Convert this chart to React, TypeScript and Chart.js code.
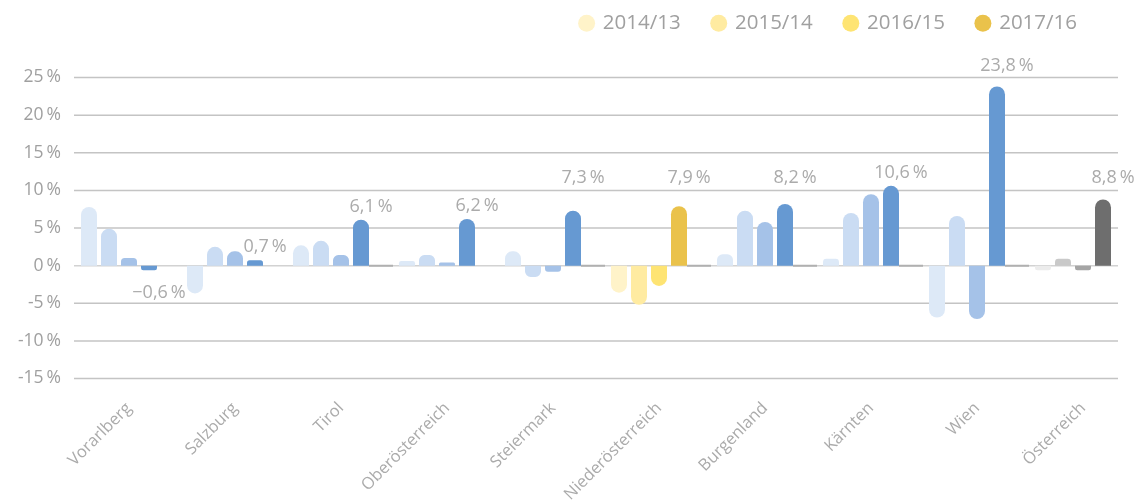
import React, { useEffect, useRef } from 'react';
import { Chart, registerables } from 'chart.js';

Chart.register(...registerables);

const FONT = "'Open Sans', 'DejaVu Sans', sans-serif";

const categories = [
  'Vorarlberg',
  'Salzburg',
  'Tirol',
  'Oberösterreich',
  'Steiermark',
  'Niederösterreich',
  'Burgenland',
  'Kärnten',
  'Wien',
  'Österreich',
];

const seriesLabels = ['2014/13', '2015/14', '2016/15', '2017/16'];

const values1413 = [7.8, -3.7, 2.7, 0.6, 1.9, -3.6, 1.5, 0.9, -6.9, -0.6];
const values1514 = [4.9, 2.5, 3.3, 1.4, -1.5, -5.2, 7.3, 7.0, 6.6, 0.9];
const values1615 = [1.0, 1.9, 1.4, 0.4, -0.8, -2.7, 5.8, 9.5, -7.1, -0.6];
const values1716 = [-0.6, 0.7, 6.1, 6.2, 7.3, 7.9, 8.2, 10.6, 23.8, 8.8];
const gapMarks = [null, null, 0, null, 0, 0, 0, 0, 0, null];

const yTicks = [-15, -10, -5, 0, 5, 10, 15, 20, 25];

const regionPalette = ['blue', 'blue', 'blue', 'blue', 'blue', 'yellow', 'blue', 'blue', 'blue', 'gray'];
const blueShades = ['#dde9f7', '#cadcf3', '#a5c2e8', '#6699d2'];
const yellowShades = ['#fff3c9', '#ffeba1', '#fee473', '#eac24b'];
const grayShades = ['#ececec', '#c9c9c9', '#a5a5a5', '#6e6e6e'];

const shadeSets: Record<string, string[]> = { blue: blueShades, yellow: yellowShades, gray: grayShades };

const seriesValues = [values1413, values1514, values1615, values1716];

const fmtValue = (v: number) =>
  (v < 0 ? '\u2212' : '') + Math.abs(v).toFixed(1).replace('.', ',') + '\u2009%';

const gridPlugin = {
  id: 'customGrid',
  beforeDatasetsDraw(chart: any) {
    const ys = chart.scales.y;
    const { left, right } = chart.chartArea;
    const ctx = chart.ctx;
    ctx.save();
    ys.ticks.forEach((t: any) => {
      const py = ys.getPixelForValue(t.value);
      ctx.beginPath();
      ctx.strokeStyle = t.value === 0 ? '#d2d2d2' : '#c4c4c4';
      ctx.lineWidth = 1.5;
      ctx.moveTo(left - 2, py);
      ctx.lineTo(right - 18, py);
      ctx.stroke();
    });
    ctx.restore();
  },
};

const valueLabelPlugin = {
  id: 'valueLabels',
  afterDatasetsDraw(chart: any) {
    const meta = chart.getDatasetMeta(3);
    const ys = chart.scales.y;
    const gridPx = ys.ticks.map((t: any) => ys.getPixelForValue(t.value));
    const ctx = chart.ctx;
    const capH = 13;
    ctx.save();
    ctx.font = `18px ${FONT}`;
    ctx.fillStyle = '#ababab';
    ctx.textAlign = 'center';
    ctx.textBaseline = 'alphabetic';
    meta.data.forEach((bar: any, i: number) => {
      const v = values1716[i];
      const x = bar.x + 10;
      let base: number;
      if (v >= 0) {
        base = bar.y - 8;
        const top = base - capH;
        for (const g of gridPx) {
          if (g > top - 3 && g < base + 3) base = g - 7;
        }
      } else {
        base = bar.y + 15 + capH;
      }
      ctx.fillText(fmtValue(v), x, base);
    });
    ctx.restore();
  },
};

const legendPlacement = {
  id: 'legendPlacement',
  afterLayout(chart: any) {
    const lg = chart.legend;
    if (!lg) return;
    const h = lg.bottom - lg.top;
    lg.top = -19;
    lg.bottom = lg.top + h;
    lg.right = chart.width - 27;
  },
};

export default function App() {
  const canvasRef = useRef<HTMLCanvasElement | null>(null);

  useEffect(() => {
    if (!canvasRef.current) return;
    Chart.defaults.font.family = FONT;

    const datasets: any[] = seriesValues.map((vals, k) => ({
      label: seriesLabels[k],
      data: vals,
      backgroundColor: categories.map((_, i) => shadeSets[regionPalette[i]][k]),
      borderWidth: 0,
      borderRadius: 8,
      borderSkipped: 'start',
      barPercentage: 0.8,
      categoryPercentage: 100 / 106,
    }));
    datasets.push({
      label: 'gap',
      data: gapMarks,
      backgroundColor: '#b0b0b0',
      borderWidth: 0,
      borderRadius: 0,
      minBarLength: 2,
      barPercentage: 1.2,
      categoryPercentage: 100 / 106,
    });

    const chart = new Chart(canvasRef.current, {
      type: 'bar',
      data: { labels: categories, datasets },
      plugins: [gridPlugin, valueLabelPlugin, legendPlacement],
      options: {
        animation: false,
        responsive: false,
        layout: { padding: { top: 15, left: 0, right: 0, bottom: 0 } },
        plugins: {
          tooltip: { enabled: false },
          legend: {
            position: 'top',
            align: 'end',
            labels: {
              usePointStyle: true,
              boxWidth: 12,
              boxHeight: 12,
              padding: 32,
              color: '#a0a0a0',
              font: { size: 20.5, family: FONT },
              generateLabels: () =>
                seriesLabels.map((t, k) => ({
                  text: t,
                  fillStyle: yellowShades[k],
                  strokeStyle: yellowShades[k],
                  lineWidth: 0,
                  pointStyle: 'circle',
                  hidden: false,
                  datasetIndex: k,
                  fontColor: '#a0a0a0',
                })),
            },
          },
        },
        scales: {
          x: {
            grid: { display: false },
            border: { display: false },
            ticks: {
              autoSkip: false,
              maxRotation: 45,
              minRotation: 45,
              padding: 12,
              color: '#ababab',
              font: { size: 16.5, family: FONT },
            },
            afterFit: (s: any) => {
              s.height = 125.5;
            },
          },
          y: {
            min: -15,
            max: 25,
            grid: { display: false, drawTicks: false },
            border: { display: false },
            afterBuildTicks: (s: any) => {
              s.ticks = yTicks.map((v) => ({ value: v }));
            },
            ticks: {
              padding: 15,
              color: '#a0a0a0',
              font: { size: 17.5, family: FONT },
              callback: (v: any) => (Number(v) < 0 ? '-' : '') + Math.abs(Number(v)) + '\u2009%',
            },
            afterFit: (s: any) => {
              s.width = 76;
            },
          },
        },
      },
    } as any);

    return () => chart.destroy();
  }, []);

  return (
    <div style={{ position: 'absolute', left: 0, top: 0, width: 1136, height: 504 }}>
      <canvas ref={canvasRef} width={1136} height={504} style={{ display: 'block' }} />
    </div>
  );
}
